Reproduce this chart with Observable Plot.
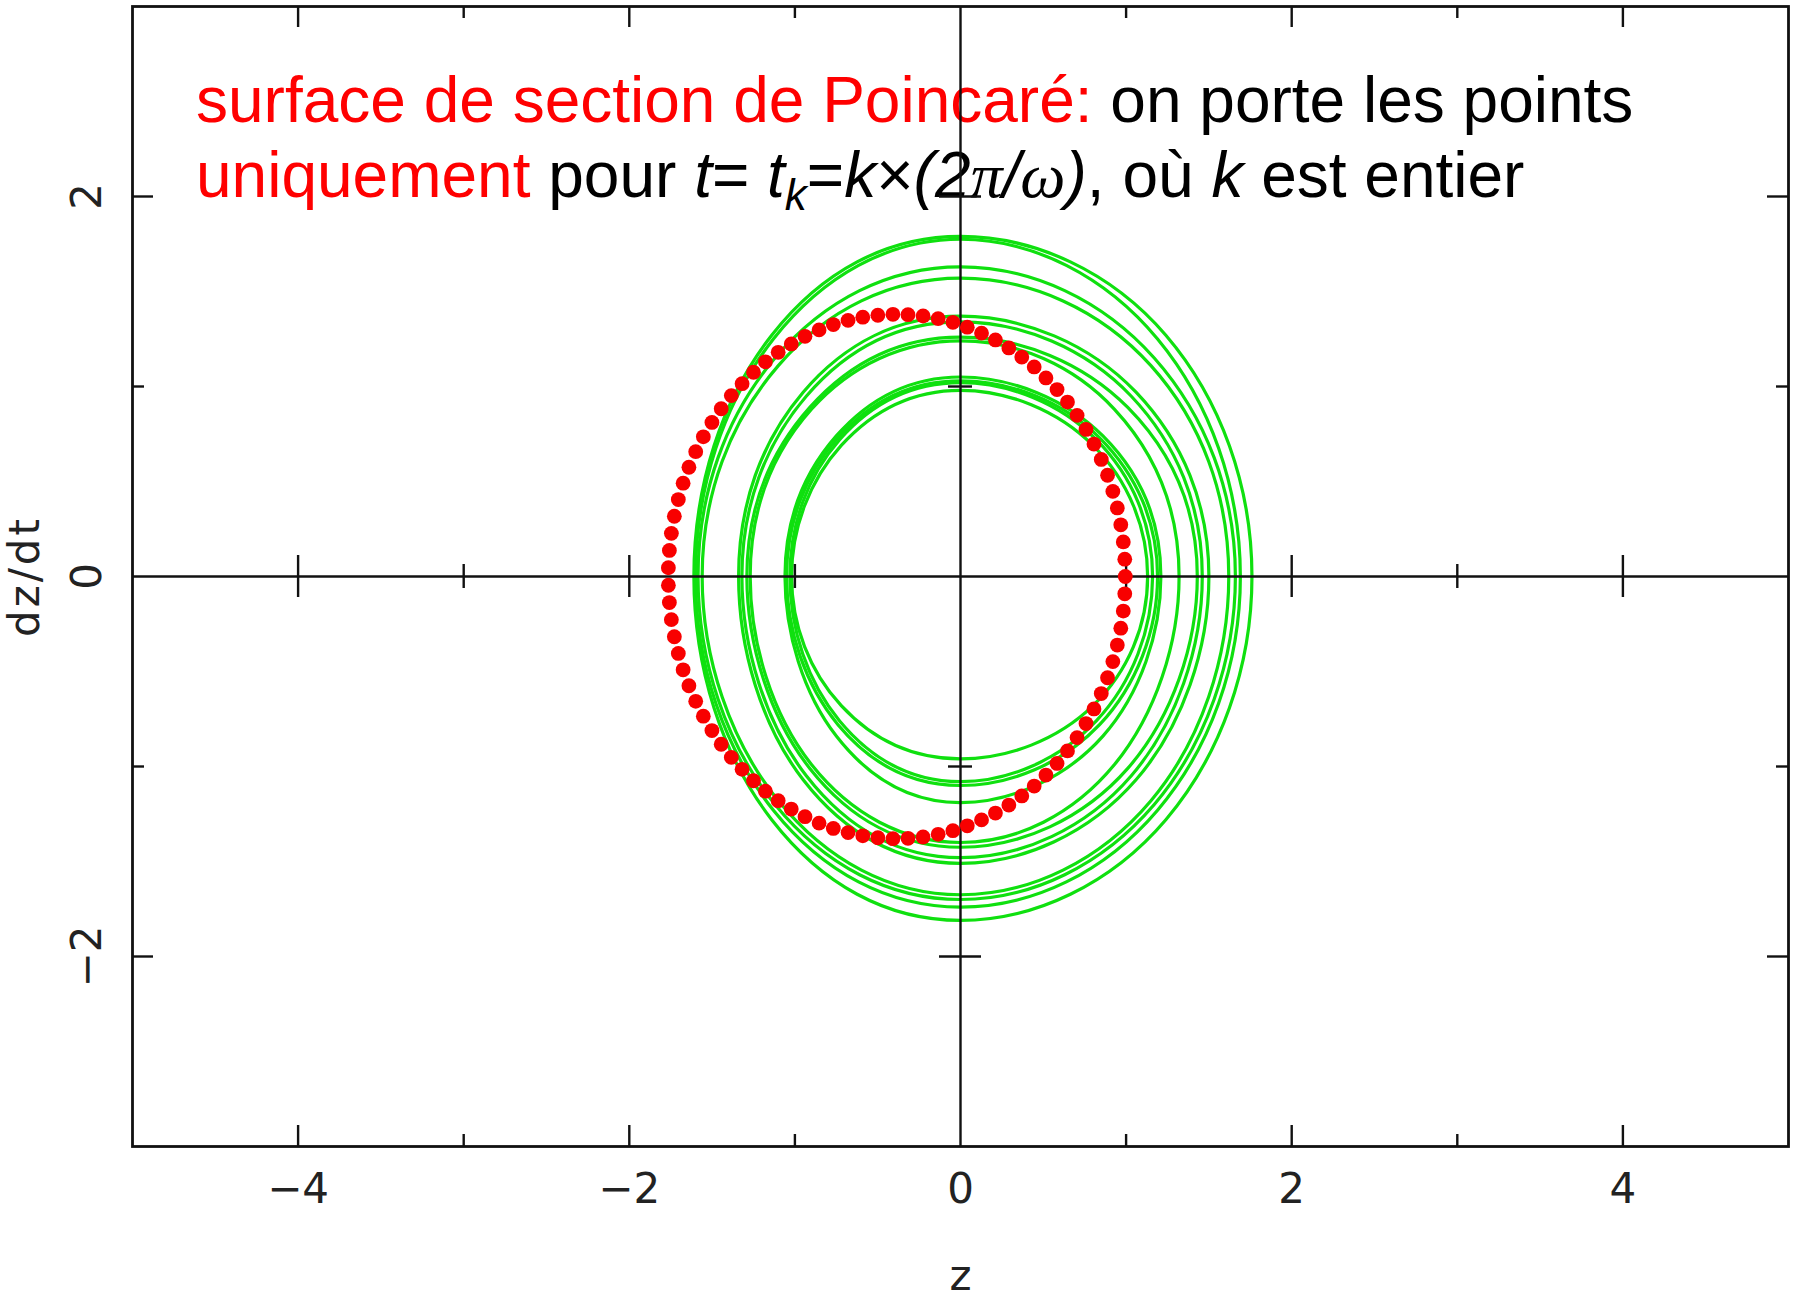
<!DOCTYPE html>
<html>
<head>
<meta charset="utf-8">
<script src="https://cdn.jsdelivr.net/npm/d3@7"></script>
<script src="https://cdn.jsdelivr.net/npm/@observablehq/plot@0.6"></script>
<style>
  body { margin: 0; background: #fff; }
  #chart svg { display: block; }
</style>
</head>
<body>
<div id="chart"></div>
<script>
// ---- layout ----
const W = 1799, H = 1297;
const M = {top: 6, right: 11, bottom: 151, left: 132};

// ---- axes ----
const xDomain = [-5, 5];
const yDomain = [-3, 3];
const xLabelTicks = [-4, -2, 0, 2, 4];
const xLabelText = ["−4", "−2", "0", "2", "4"];
const yLabelTicks = [-2, 0, 2];
const yLabelText = ["−2", "0", "2"];
const xMajor = [-4, -2, 2, 4];
const xMinor = [-3, -1, 1, 3];
const yMajor = [-2, 2];
const yMinor = [-1, 1];

// ---- Poincaré section: (z, dz/dt) sampled at t_k = k·2π/ω ----
const sectionZ = [
  0.995, 0.992, 0.983, 0.968, 0.947, 0.920, 0.888, 0.850, 0.806, 0.758, 0.704, 0.646,
  0.583, 0.516, 0.445, 0.370, 0.292, 0.211, 0.127, 0.041, -0.046, -0.135, -0.226, -0.317,
  -0.408, -0.499, -0.590, -0.679, -0.768, -0.854, -0.939, -1.022, -1.101, -1.178, -1.250, -1.319,
  -1.384, -1.445, -1.501, -1.553, -1.599, -1.640, -1.675, -1.704, -1.728, -1.746, -1.758, -1.764,
  -1.764, -1.758, -1.746, -1.728, -1.704, -1.675, -1.640, -1.599, -1.553, -1.501, -1.445, -1.384,
  -1.319, -1.250, -1.178, -1.101, -1.022, -0.939, -0.854, -0.768, -0.679, -0.590, -0.499, -0.408,
  -0.317, -0.226, -0.135, -0.046, 0.041, 0.127, 0.211, 0.292, 0.370, 0.445, 0.516, 0.583,
  0.646, 0.704, 0.758, 0.806, 0.850, 0.888, 0.920, 0.947, 0.968, 0.983, 0.992
];
const sectionV = [
  0.000, 0.091, 0.182, 0.272, 0.361, 0.448, 0.533, 0.616, 0.697, 0.774, 0.848, 0.918,
  0.984, 1.045, 1.103, 1.155, 1.203, 1.245, 1.281, 1.312, 1.338, 1.357, 1.371, 1.378,
  1.380, 1.375, 1.365, 1.348, 1.326, 1.298, 1.264, 1.224, 1.180, 1.130, 1.075, 1.015,
  0.952, 0.883, 0.811, 0.735, 0.657, 0.575, 0.491, 0.405, 0.317, 0.227, 0.137, 0.046,
  -0.046, -0.137, -0.227, -0.317, -0.405, -0.491, -0.575, -0.657, -0.735, -0.811, -0.883, -0.952,
  -1.015, -1.075, -1.130, -1.180, -1.224, -1.264, -1.298, -1.326, -1.348, -1.365, -1.375, -1.380,
  -1.378, -1.371, -1.357, -1.338, -1.312, -1.281, -1.245, -1.203, -1.155, -1.103, -1.045, -0.984,
  -0.918, -0.848, -0.774, -0.697, -0.616, -0.533, -0.448, -0.361, -0.272, -0.182, -0.091
];

// ---- trajectory turns (three bundles of four), read along eight directions ----
const loopE = [1.13, 1.16, 1.19, 1.21, 1.32, 1.43, 1.46, 1.50, 1.62, 1.66, 1.69, 1.76];            // z at dz/dt = 0, right
const loopN = [0.98, 1.02, 1.03, 1.05, 1.24, 1.26, 1.34, 1.37, 1.57, 1.63, 1.775, 1.79];           // dz/dt at z = 0, top
const loopW = [-1.02, -1.03, -1.05, -1.06, -1.27, -1.29, -1.32, -1.34, -1.56, -1.585, -1.60, -1.61]; // z at dz/dt = 0, left
const loopS = [-0.96, -1.08, -1.10, -1.19, -1.40, -1.425, -1.48, -1.51, -1.675, -1.70, -1.74, -1.81]; // dz/dt at z = 0, bottom
const loopNE = [[0.80,0.69],[0.82,0.72],[0.84,0.73],[0.86,0.74],[0.93,0.88],[1.01,0.89],[1.03,0.95],[1.06,0.97],[1.15,1.11],[1.17,1.15],[1.19,1.25],[1.24,1.27]];
const loopNW = [[-0.72,0.69],[-0.73,0.72],[-0.74,0.73],[-0.75,0.74],[-0.90,0.88],[-0.91,0.89],[-0.93,0.95],[-0.95,0.97],[-1.10,1.11],[-1.12,1.15],[-1.13,1.25],[-1.14,1.27]];
const loopSW = [[-0.72,-0.68],[-0.73,-0.76],[-0.74,-0.78],[-0.75,-0.84],[-0.90,-0.99],[-0.91,-1.01],[-0.93,-1.05],[-0.95,-1.07],[-1.10,-1.18],[-1.12,-1.20],[-1.13,-1.23],[-1.14,-1.28]];
const loopSE = [[0.80,-0.68],[0.82,-0.76],[0.84,-0.78],[0.86,-0.84],[0.93,-0.99],[1.01,-1.01],[1.03,-1.05],[1.06,-1.07],[1.15,-1.18],[1.17,-1.20],[1.19,-1.23],[1.24,-1.28]];

// ---- tables for the marks ----
const section = sectionZ.map((z, i) => ({z, v: sectionV[i]}));
const trajectory = loopE.flatMap((e, i) => [
  [e, 0], loopNE[i], [0, loopN[i]], loopNW[i],
  [loopW[i], 0], loopSW[i], [0, loopS[i]], loopSE[i]
].map(([z, v]) => ({loop: i, z, v})));

// pixel sizes expressed in data units, for the inward ticks
const pxX = (W - M.left - M.right) / (xDomain[1] - xDomain[0]);
const pxY = (H - M.top - M.bottom) / (yDomain[1] - yDomain[0]);
const TICK_MAJOR = 21, TICK_MINOR = 12;
const INK = "#111";

function xTicks(values, len) {
  const dy = len / pxY;
  return [
    Plot.ruleX(values, {x: d => d, y1: yDomain[0], y2: yDomain[0] + dy, stroke: INK, strokeWidth: 2.4}),
    Plot.ruleX(values, {x: d => d, y1: yDomain[1], y2: yDomain[1] - dy, stroke: INK, strokeWidth: 2.4}),
    Plot.ruleX(values, {x: d => d, y1: -dy, y2: dy, stroke: INK, strokeWidth: 2.4})
  ];
}
function yTicks(values, len) {
  const dx = len / pxX;
  return [
    Plot.ruleY(values, {y: d => d, x1: xDomain[0], x2: xDomain[0] + dx, stroke: INK, strokeWidth: 2.4}),
    Plot.ruleY(values, {y: d => d, x1: xDomain[1], x2: xDomain[1] - dx, stroke: INK, strokeWidth: 2.4}),
    Plot.ruleY(values, {y: d => d, x1: -dx, x2: dx, stroke: INK, strokeWidth: 2.4})
  ];
}

const labelStyle = {fontSize: 42, fill: "#222", fontFamily: "'DejaVu Sans', sans-serif", textAnchor: "middle"};

const chart = Plot.plot({
  width: W,
  height: H,
  marginTop: M.top,
  marginRight: M.right,
  marginBottom: M.bottom,
  marginLeft: M.left,
  style: {fontFamily: "'Liberation Sans', Arial, sans-serif", background: "#fff", overflow: "visible"},
  x: {domain: xDomain, axis: null},
  y: {domain: yDomain, axis: null},
  marks: [
    // trajectory in phase space
    Plot.line(trajectory, {x: "z", y: "v", z: "loop", curve: "cardinal-closed", tension: -0.125, stroke: "#0fe00f", strokeWidth: 3.2}),
    // axes through the origin
    Plot.ruleY([0], {stroke: INK, strokeWidth: 2.4}),
    Plot.ruleX([0], {stroke: INK, strokeWidth: 2.4}),
    ...xTicks(xMajor, TICK_MAJOR),
    ...xTicks(xMinor, TICK_MINOR),
    ...yTicks(yMajor, TICK_MAJOR),
    ...yTicks(yMinor, TICK_MINOR),
    Plot.frame({stroke: INK, strokeWidth: 2.8}),
    // section points
    Plot.dot(section, {x: "z", y: "v", r: 7.4, fill: "#f80000", stroke: "none"}),
    // tick labels and axis titles
    Plot.text(xLabelTicks, {x: d => d, text: (d, i) => xLabelText[i], frameAnchor: "bottom", lineAnchor: "bottom", dy: 56, ...labelStyle}),
    Plot.text(yLabelTicks, {y: d => d, text: (d, i) => yLabelText[i], frameAnchor: "left", lineAnchor: "bottom", dx: -32, rotate: -90, ...labelStyle}),
    Plot.text(["z"], {x: 0, text: d => d, frameAnchor: "bottom", lineAnchor: "bottom", dy: 143, ...labelStyle}),
    Plot.text(["dz/dt"], {y: 0, text: d => d, frameAnchor: "left", lineAnchor: "bottom", dx: -94, rotate: -90, ...labelStyle})
  ]
});

document.getElementById("chart").appendChild(chart);

// the axis title on the left is set with a little extra tracking
d3.select(chart).selectAll("text")
  .filter(function() { return this.textContent === "dz/dt"; })
  .style("letter-spacing", "3px");

// ---- annotation in the upper part of the frame, drawn beneath the marks ----
const RED = "#ff0000";
const SERIF = "'Liberation Serif', 'DejaVu Serif', serif";
const annotation = [
  [
    {t: "surface de section de Poincaré:", fill: RED},
    {t: " on porte les points"}
  ],
  [
    {t: "uniquement", fill: RED},
    {t: " pour "},
    {t: "t", italic: true},
    {t: "= "},
    {t: "t", italic: true},
    {t: "k", italic: true, sub: true},
    {t: "=", unsub: true},
    {t: "k", italic: true},
    {t: "×"},
    {t: "(2", italic: true},
    {t: "π", italic: true, serif: true},
    {t: "/", italic: true},
    {t: "ω", italic: true, serif: true},
    {t: ")", italic: true},
    {t: ", où "},
    {t: "k", italic: true},
    {t: " est entier"}
  ]
];
const annX = M.left + 64;
const annBaselines = [M.top + 116, M.top + 191];
const g = d3.select(chart).insert("g", "g")
  .attr("font-family", "'Liberation Sans', Arial, sans-serif")
  .attr("font-size", 64)
  .attr("text-anchor", "start")
  .style("white-space", "pre");
annotation.forEach((segments, li) => {
  const text = g.append("text").attr("x", annX).attr("y", annBaselines[li]);
  segments.forEach(s => {
    const ts = text.append("tspan").text(s.t).attr("fill", s.fill || "#000");
    if (s.italic) ts.attr("font-style", "italic");
    if (s.serif) ts.attr("font-family", SERIF);
    if (s.sub) ts.attr("font-size", 44).attr("dy", 13);
    if (s.unsub) ts.attr("dy", -13);
  });
});
</script>
</body>
</html>
